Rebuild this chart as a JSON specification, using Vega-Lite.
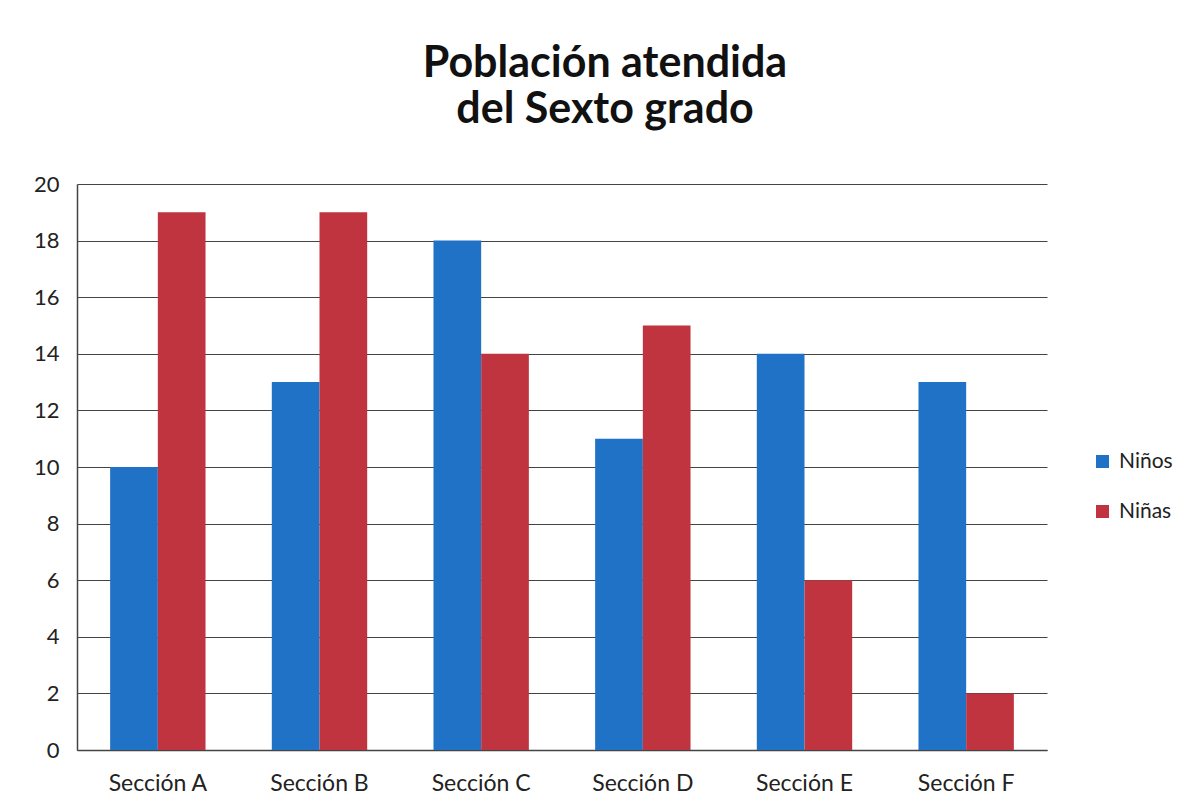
{
  "$schema": "https://vega.github.io/schema/vega-lite/v6.json",
  "width": 970,
  "height": 566,
  "padding": {"left": 33, "top": 43, "right": 10, "bottom": 10},
  "background": "white",
  "title": {
    "text": ["Población atendida", "del Sexto grado"],
    "fontSize": 43,
    "font": "Lato",
    "fontWeight": "bold",
    "color": "#111111",
    "lineHeight": 46,
    "anchor": "middle",
    "dx": 43,
    "offset": 41
  },
  "data": {
    "values": [
      {"seccion": "Sección A", "grupo": "Niños", "valor": 10},
      {"seccion": "Sección A", "grupo": "Niñas", "valor": 19},
      {"seccion": "Sección B", "grupo": "Niños", "valor": 13},
      {"seccion": "Sección B", "grupo": "Niñas", "valor": 19},
      {"seccion": "Sección C", "grupo": "Niños", "valor": 18},
      {"seccion": "Sección C", "grupo": "Niñas", "valor": 14},
      {"seccion": "Sección D", "grupo": "Niños", "valor": 11},
      {"seccion": "Sección D", "grupo": "Niñas", "valor": 15},
      {"seccion": "Sección E", "grupo": "Niños", "valor": 14},
      {"seccion": "Sección E", "grupo": "Niñas", "valor": 6},
      {"seccion": "Sección F", "grupo": "Niños", "valor": 13},
      {"seccion": "Sección F", "grupo": "Niñas", "valor": 2}
    ]
  },
  "mark": {"type": "bar"},
  "encoding": {
    "x": {
      "field": "seccion",
      "type": "nominal",
      "scale": {"paddingInner": 0.41, "paddingOuter": 0.205},
      "axis": {
        "title": null,
        "labelAngle": 0,
        "labelFont": "Lato",
        "labelFontSize": 23,
        "labelColor": "#222222",
        "labelPadding": 22,
        "ticks": false,
        "domainColor": "#444444",
        "domainWidth": 1.5
      }
    },
    "xOffset": {"field": "grupo", "type": "nominal", "sort": ["Niños", "Niñas"], "scale": {"paddingInner": 0}},
    "y": {
      "field": "valor",
      "type": "quantitative",
      "scale": {"domain": [0, 20], "nice": false},
      "axis": {
        "title": null,
        "values": [0, 2, 4, 6, 8, 10, 12, 14, 16, 18, 20],
        "labelFont": "Lato",
        "labelFontSize": 22,
        "labelColor": "#222222",
        "labelPadding": 18,
        "ticks": false,
        "grid": true,
        "gridColor": "#444444",
        "gridWidth": 1.2,
        "domainColor": "#444444",
        "domainWidth": 1.5
      }
    },
    "color": {
      "field": "grupo",
      "type": "nominal",
      "sort": ["Niños", "Niñas"],
      "scale": {"domain": ["Niños", "Niñas"], "range": ["#1f72c6", "#c0343f"]},
      "legend": {
        "title": null,
        "orient": "none",
        "legendX": 1015,
        "legendY": 267,
        "padding": 0,
        "symbolType": "square",
        "symbolSize": 169,
        "symbolStrokeWidth": 0,
        "labelFont": "Lato",
        "labelFontSize": 21,
        "labelColor": "#222222",
        "rowPadding": 28,
        "labelOffset": 6
      }
    }
  },
  "config": {"view": {"stroke": null}}
}
